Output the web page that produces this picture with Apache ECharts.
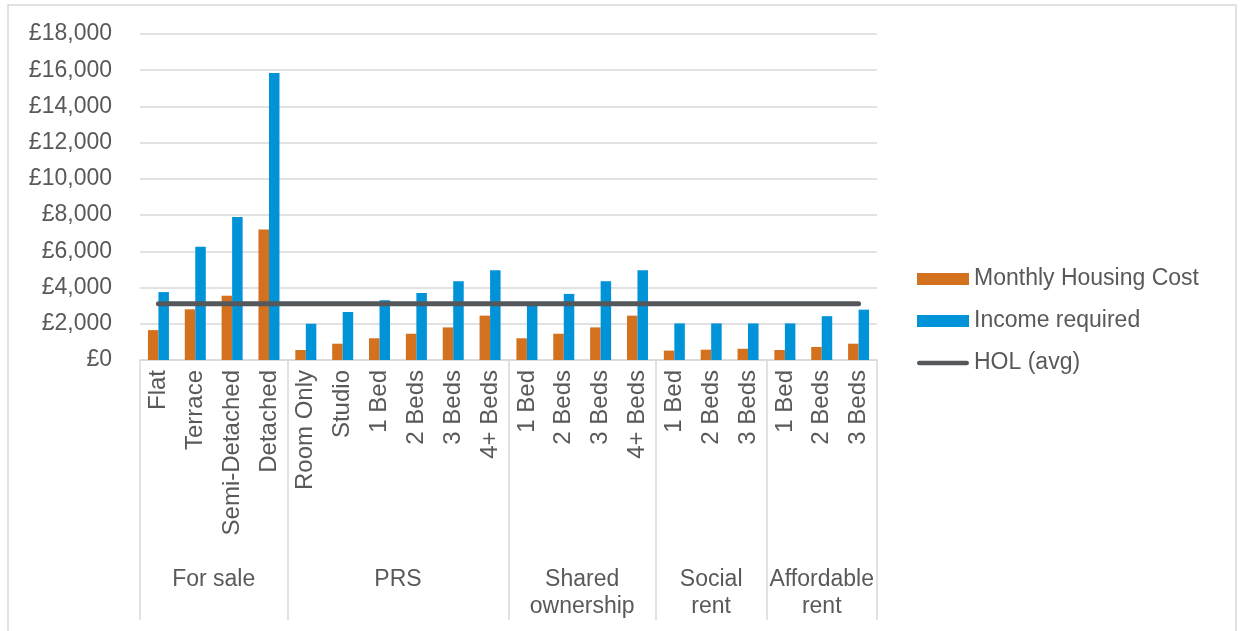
<!DOCTYPE html>
<html>
<head>
<meta charset="utf-8">
<title>Housing costs and income required</title>
<script src="https://cdn.jsdelivr.net/npm/echarts@6/dist/echarts.min.js"></script>
<style>
  html, body { margin: 0; padding: 0; background: #ffffff; }
  #chart { width: 1242px; height: 631px; }
</style>
</head>
<body>
<div id="chart"></div>
<script>
// Sub-categories along the x axis (one per bar pair)
const categories = [
  'Flat', 'Terrace', 'Semi-Detached', 'Detached',
  'Room Only', 'Studio', '1 Bed', '2 Beds', '3 Beds', '4+ Beds',
  '1 Bed', '2 Beds', '3 Beds', '4+ Beds',
  '1 Bed', '2 Beds', '3 Beds',
  '1 Bed', '2 Beds', '3 Beds'
];

// Tenure groups and how many sub-categories each spans
const groupNames = ['For sale', 'PRS', 'Shared\nownership', 'Social\nrent', 'Affordable\nrent'];
const groupSizes = [4, 6, 4, 3, 3];

// Monthly figures in £
const monthlyHousingCost = [1650, 2800, 3550, 7200, 550, 900, 1200, 1450, 1800, 2450, 1200, 1450, 1800, 2450, 520, 570, 620, 550, 720, 900];
const incomeRequired = [3750, 6250, 7900, 15850, 2000, 2650, 3300, 3700, 4350, 4950, 3100, 3650, 4350, 4950, 2020, 2020, 2020, 2020, 2420, 2780];
const holAvg = [3100, 3100, 3100, 3100, 3100, 3100, 3100, 3100, 3100, 3100, 3100, 3100, 3100, 3100, 3100, 3100, 3100, 3100, 3100, 3100];

// Value axis ticks
const yTicks = [0, 2000, 4000, 6000, 8000, 10000, 12000, 14000, 16000, 18000];

// Group boundaries and centres on a 0..N scale for the second x axis
const groupEdges = [0];
const groupCentres = [];
groupSizes.forEach(function (n, i) {
  const start = groupEdges[i];
  groupEdges.push(start + n);
  groupCentres.push(start + n / 2);
});

const FONT = '"Liberation Sans", Arial, sans-serif';
const TEXT = '#595959';
const RULE = '#d9d9d9';

function pounds(v) {
  return '£' + String(v).replace(/\B(?=(\d{3})+(?!\d))/g, ',');
}

const chart = echarts.init(document.getElementById('chart'), null, { renderer: 'canvas' });

chart.setOption({
  animation: false,
  backgroundColor: '#ffffff',
  textStyle: { fontFamily: FONT, color: TEXT },
  graphic: [{
    type: 'rect',
    silent: true,
    z: -10,
    shape: { x: 8, y: 5, width: 1228, height: 720 },
    style: { fill: 'none', stroke: RULE, lineWidth: 1.5 }
  }],
  grid: { left: 140, right: 365, top: 34, bottom: 271, containLabel: false },
  legend: {
    orient: 'vertical',
    left: 912,
    top: 262,
    itemWidth: 52,
    itemHeight: 12,
    itemGap: 18,
    textStyle: { fontFamily: FONT, fontSize: 23, color: TEXT, lineHeight: 24 },
    data: [
      { name: 'Monthly Housing Cost', icon: 'rect' },
      { name: 'Income required', icon: 'rect' },
      { name: 'HOL (avg)', icon: 'path://M2.5,0 L52.5,0 A2.5,2.5 0 0 1 52.5,5 L2.5,5 A2.5,2.5 0 0 1 2.5,0 Z' }
    ]
  },
  xAxis: [
    {
      type: 'category',
      data: categories,
      position: 'bottom',
      boundaryGap: true,
      axisLine: { show: true, lineStyle: { color: RULE, width: 1.5 } },
      axisTick: { show: false },
      splitLine: { show: false },
      axisLabel: {
        interval: 0,
        rotate: 90,
        margin: 10,
        fontFamily: FONT,
        fontSize: 24,
        color: TEXT
      }
    },
    {
      type: 'value',
      min: 0,
      max: groupEdges[groupEdges.length - 1],
      position: 'bottom',
      axisLine: { show: false },
      splitLine: { show: false },
      axisTick: {
        show: true,
        customValues: groupEdges,
        length: 260,
        lineStyle: { color: RULE, width: 1.5 }
      },
      axisLabel: {
        show: true,
        customValues: groupCentres,
        margin: 206,
        fontFamily: FONT,
        fontSize: 23,
        lineHeight: 27,
        color: TEXT,
        formatter: function (v) {
          const i = groupCentres.indexOf(v);
          return i >= 0 ? groupNames[i] : '';
        }
      }
    }
  ],
  yAxis: {
    type: 'value',
    min: yTicks[0],
    max: yTicks[yTicks.length - 1],
    interval: yTicks[1] - yTicks[0],
    axisLine: { show: false },
    axisTick: { show: false },
    splitLine: { show: true, lineStyle: { color: RULE, width: 1.5 } },
    axisLabel: {
      margin: 28,
      fontFamily: FONT,
      fontSize: 23,
      color: TEXT,
      formatter: pounds
    }
  },
  series: [
    {
      name: 'Monthly Housing Cost',
      type: 'bar',
      xAxisIndex: 0,
      data: monthlyHousingCost,
      barGap: '0%',
      barCategoryGap: '43%',
      itemStyle: { color: '#D3711F' }
    },
    {
      name: 'Income required',
      type: 'bar',
      xAxisIndex: 0,
      data: incomeRequired,
      barGap: '0%',
      barCategoryGap: '43%',
      itemStyle: { color: '#0093D8' }
    },
    {
      name: 'HOL (avg)',
      type: 'line',
      xAxisIndex: 0,
      data: holAvg,
      symbol: 'none',
      showSymbol: false,
      z: 5,
      lineStyle: { color: '#54585B', width: 5, cap: 'round' },
      itemStyle: { color: '#54585B' }
    }
  ]
});
</script>
</body>
</html>
